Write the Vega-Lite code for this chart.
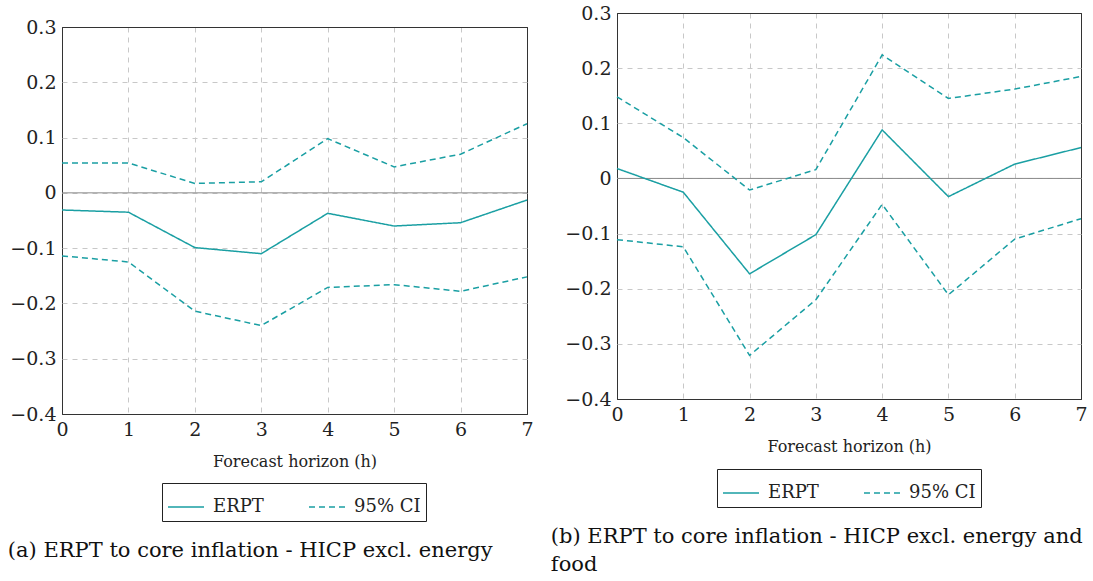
{
  "$schema": "https://vega.github.io/schema/vega-lite/v6.json",
  "padding": {"left": 7, "top": 3, "right": 0, "bottom": 0},
  "spacing": 16,
  "center": true,
  "datasets": {
    "a": [
      {"h": 0, "v": -0.031, "series": "ERPT", "band": "est"},
      {"h": 1, "v": -0.035, "series": "ERPT", "band": "est"},
      {"h": 2, "v": -0.099, "series": "ERPT", "band": "est"},
      {"h": 3, "v": -0.110, "series": "ERPT", "band": "est"},
      {"h": 4, "v": -0.037, "series": "ERPT", "band": "est"},
      {"h": 5, "v": -0.060, "series": "ERPT", "band": "est"},
      {"h": 6, "v": -0.054, "series": "ERPT", "band": "est"},
      {"h": 7, "v": -0.013, "series": "ERPT", "band": "est"},
      {"h": 0, "v": 0.054, "series": "95% CI", "band": "upper"},
      {"h": 1, "v": 0.054, "series": "95% CI", "band": "upper"},
      {"h": 2, "v": 0.017, "series": "95% CI", "band": "upper"},
      {"h": 3, "v": 0.020, "series": "95% CI", "band": "upper"},
      {"h": 4, "v": 0.098, "series": "95% CI", "band": "upper"},
      {"h": 5, "v": 0.047, "series": "95% CI", "band": "upper"},
      {"h": 6, "v": 0.070, "series": "95% CI", "band": "upper"},
      {"h": 7, "v": 0.125, "series": "95% CI", "band": "upper"},
      {"h": 0, "v": -0.114, "series": "95% CI", "band": "lower"},
      {"h": 1, "v": -0.125, "series": "95% CI", "band": "lower"},
      {"h": 2, "v": -0.214, "series": "95% CI", "band": "lower"},
      {"h": 3, "v": -0.240, "series": "95% CI", "band": "lower"},
      {"h": 4, "v": -0.171, "series": "95% CI", "band": "lower"},
      {"h": 5, "v": -0.166, "series": "95% CI", "band": "lower"},
      {"h": 6, "v": -0.178, "series": "95% CI", "band": "lower"},
      {"h": 7, "v": -0.152, "series": "95% CI", "band": "lower"}
    ],
    "b": [
      {"h": 0, "v": 0.018, "series": "ERPT", "band": "est"},
      {"h": 1, "v": -0.025, "series": "ERPT", "band": "est"},
      {"h": 2, "v": -0.173, "series": "ERPT", "band": "est"},
      {"h": 3, "v": -0.102, "series": "ERPT", "band": "est"},
      {"h": 4, "v": 0.088, "series": "ERPT", "band": "est"},
      {"h": 5, "v": -0.033, "series": "ERPT", "band": "est"},
      {"h": 6, "v": 0.026, "series": "ERPT", "band": "est"},
      {"h": 7, "v": 0.056, "series": "ERPT", "band": "est"},
      {"h": 0, "v": 0.148, "series": "95% CI", "band": "upper"},
      {"h": 1, "v": 0.074, "series": "95% CI", "band": "upper"},
      {"h": 2, "v": -0.021, "series": "95% CI", "band": "upper"},
      {"h": 3, "v": 0.016, "series": "95% CI", "band": "upper"},
      {"h": 4, "v": 0.224, "series": "95% CI", "band": "upper"},
      {"h": 5, "v": 0.145, "series": "95% CI", "band": "upper"},
      {"h": 6, "v": 0.162, "series": "95% CI", "band": "upper"},
      {"h": 7, "v": 0.185, "series": "95% CI", "band": "upper"},
      {"h": 0, "v": -0.111, "series": "95% CI", "band": "lower"},
      {"h": 1, "v": -0.124, "series": "95% CI", "band": "lower"},
      {"h": 2, "v": -0.321, "series": "95% CI", "band": "lower"},
      {"h": 3, "v": -0.220, "series": "95% CI", "band": "lower"},
      {"h": 4, "v": -0.047, "series": "95% CI", "band": "lower"},
      {"h": 5, "v": -0.211, "series": "95% CI", "band": "lower"},
      {"h": 6, "v": -0.110, "series": "95% CI", "band": "lower"},
      {"h": 7, "v": -0.073, "series": "95% CI", "band": "lower"}
    ]
  },
  "hconcat": [
    {
      "width": 465,
      "height": 387,
      "title": {"text": "(a) ERPT to core inflation - HICP excl. energy", "dx": -2},
      "layer": [
        {
          "data": {"values": [{"zero": 0}]},
          "mark": {"type": "rule", "color": "#8a8a8a", "strokeWidth": 1},
          "encoding": {"y": {"field": "zero", "type": "quantitative"}}
        },
        {
          "data": {"name": "a"},
          "mark": {"type": "line", "color": "#1a9fa3", "strokeWidth": 1.5},
          "encoding": {
            "x": {"field": "h", "type": "quantitative", "scale": {"domain": [0, 7], "nice": false},
                  "axis": {"values": [0, 1, 2, 3, 4, 5, 6, 7], "title": "Forecast horizon (h)",
                           "gridDash": {"condition": {"test": "datum.value == 0 || datum.value == 7", "value": []}, "value": [5, 5]},
                           "gridColor": {"condition": {"test": "datum.value == 0 || datum.value == 7", "value": "#333333"}, "value": "#c8c8c8"}}},
            "y": {"field": "v", "type": "quantitative", "scale": {"domain": [-0.4, 0.3], "nice": false},
                  "axis": {"values": [-0.4, -0.3, -0.2, -0.1, 0, 0.1, 0.2, 0.3], "title": null,
                           "labelExpr": "datum.value == 0 ? '0' : format(datum.value, '.1f')",
                           "gridDash": {"condition": {"test": "datum.value < -0.39 || datum.value > 0.29", "value": []}, "value": [5, 5]},
                           "gridColor": {"condition": {"test": "datum.value < -0.39 || datum.value > 0.29", "value": "#333333"}, "value": "#c8c8c8"}}},
            "strokeDash": {"field": "series", "type": "nominal",
                           "scale": {"domain": ["ERPT", "95% CI"], "range": [[1, 0], [6, 4]]},
                           "legend": {"orient": "none", "legendX": 100, "legendY": 456, "direction": "horizontal", "title": null}},
            "detail": {"field": "band"}
          }
        }
      ]
    },
    {
      "width": 464,
      "height": 386,
      "title": {"text": ["(b) ERPT to core inflation - HICP excl. energy and", "food"], "dx": -14},
      "layer": [
        {
          "data": {"values": [{"zero": 0}]},
          "mark": {"type": "rule", "color": "#8a8a8a", "strokeWidth": 1},
          "encoding": {"y": {"field": "zero", "type": "quantitative"}}
        },
        {
          "data": {"name": "b"},
          "mark": {"type": "line", "color": "#1a9fa3", "strokeWidth": 1.5},
          "encoding": {
            "x": {"field": "h", "type": "quantitative", "scale": {"domain": [0, 7], "nice": false},
                  "axis": {"values": [0, 1, 2, 3, 4, 5, 6, 7], "title": "Forecast horizon (h)",
                           "gridDash": {"condition": {"test": "datum.value == 0 || datum.value == 7", "value": []}, "value": [5, 5]},
                           "gridColor": {"condition": {"test": "datum.value == 0 || datum.value == 7", "value": "#333333"}, "value": "#c8c8c8"}}},
            "y": {"field": "v", "type": "quantitative", "scale": {"domain": [-0.4, 0.3], "nice": false},
                  "axis": {"values": [-0.4, -0.3, -0.2, -0.1, 0, 0.1, 0.2, 0.3], "title": null,
                           "labelExpr": "datum.value == 0 ? '0' : format(datum.value, '.1f')",
                           "gridDash": {"condition": {"test": "datum.value < -0.39 || datum.value > 0.29", "value": []}, "value": [5, 5]},
                           "gridColor": {"condition": {"test": "datum.value < -0.39 || datum.value > 0.29", "value": "#333333"}, "value": "#c8c8c8"}}},
            "strokeDash": {"field": "series", "type": "nominal",
                           "scale": {"domain": ["ERPT", "95% CI"], "range": [[1, 0], [6, 4]]},
                           "legend": {"orient": "none", "legendX": 100, "legendY": 456, "direction": "horizontal", "title": null}},
            "detail": {"field": "band"}
          }
        }
      ]
    }
  ],
  "resolve": {
    "scale": {"x": "independent", "y": "independent", "strokeDash": "independent"},
    "legend": {"strokeDash": "independent"}
  },
  "config": {
    "font": "DejaVu Serif",
    "view": {"stroke": "#333333", "strokeWidth": 1},
    "axis": {
      "grid": true, "gridWidth": 1,
      "ticks": false, "domain": false,
      "labelFont": "DejaVu Serif", "labelFontSize": 19, "labelColor": "#222222", "labelPadding": 6,
      "titleFont": "DejaVu Serif", "titleFontSize": 16, "titleFontWeight": "normal", "titleColor": "#222222", "titlePadding": 14
    },
    "axisX": {"labelFlush": false},
    "legend": {
      "strokeColor": "#222222", "fillColor": "white", "padding": 5, "cornerRadius": 0,
      "symbolType": "stroke", "symbolSize": 1296, "symbolStrokeWidth": 1.5, "symbolStrokeColor": "#1a9fa3",
      "labelFont": "DejaVu Serif", "labelFontSize": 18, "labelColor": "#222222", "labelOffset": 8,
      "columnPadding": 42
    },
    "title": {
      "orient": "bottom", "anchor": "start", "frame": "bounds", "offset": 18,
      "font": "DejaVu Serif", "fontSize": 21, "fontWeight": "normal", "color": "#111111", "lineHeight": 28
    }
  }
}
